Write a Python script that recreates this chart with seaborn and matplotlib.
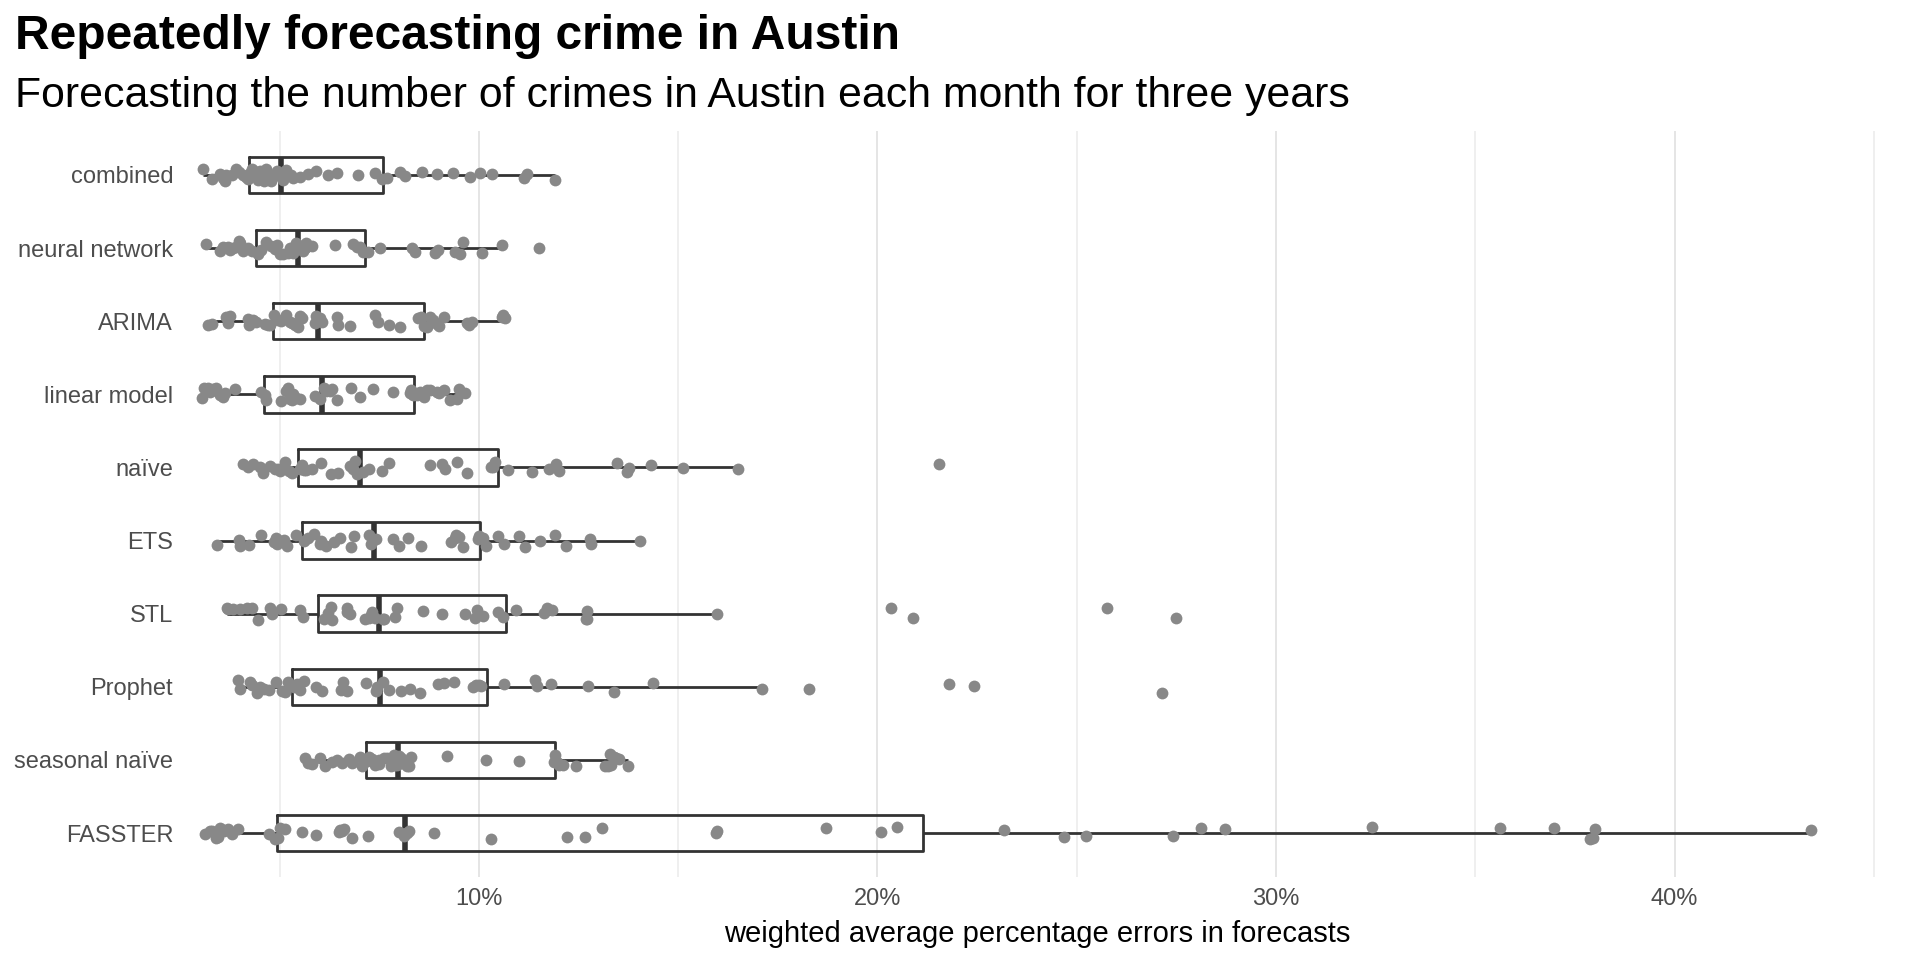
import numpy as np
import pandas as pd
import seaborn as sns
import matplotlib.pyplot as plt
from matplotlib.ticker import MultipleLocator, PercentFormatter

# --- данные: WAPE (%) по моделям, сверху вниз ---
models = ["combined", "neural network", "ARIMA", "linear model", "naïve",
          "ETS", "STL", "Prophet", "seasonal naïve", "FASSTER"]

combined = [3.07, 3.30, 3.49, 3.57, 3.62, 3.66, 3.80, 3.90, 3.99, 4.08, 4.15, 4.20,
            4.25, 4.30, 4.41, 4.45, 4.50, 4.54, 4.60, 4.66, 4.75, 4.79, 4.92, 5.00,
            5.08, 5.17, 5.29, 5.34, 5.50, 5.71, 5.92, 6.20, 6.43, 6.97, 7.40, 7.56,
            7.68, 8.02, 8.15, 8.57, 8.94, 9.36, 9.78, 10.03, 10.33, 11.12, 11.21, 11.92]
neural_network = [3.15, 3.50, 3.57, 3.70, 3.75, 3.83, 3.91, 3.99, 4.00, 4.08, 4.20, 4.30,
                  4.45, 4.54, 4.66, 4.79, 4.87, 4.92, 5.00, 5.08, 5.20, 5.25, 5.34, 5.42,
                  5.50, 5.55, 5.59, 5.63, 5.65, 5.71, 5.80, 6.38, 6.85, 6.93, 7.01, 7.10,
                  7.22, 7.52, 8.31, 8.40, 8.90, 8.98, 9.40, 9.53, 9.61, 10.08, 10.58, 11.50]
arima = [3.20, 3.30, 3.66, 3.70, 3.74, 4.20, 4.24, 4.33, 4.40, 4.62, 4.71, 4.75,
         4.85, 4.96, 5.04, 5.17, 5.25, 5.30, 5.38, 5.46, 5.50, 5.55, 5.88, 5.90,
         6.00, 6.05, 6.43, 6.47, 6.76, 7.39, 7.47, 7.73, 8.02, 8.48, 8.55, 8.61,
         8.70, 8.78, 8.85, 8.94, 9.00, 9.11, 9.70, 9.75, 9.82, 10.58, 10.60, 10.66]
linear_model = [3.05, 3.11, 3.20, 3.24, 3.32, 3.35, 3.41, 3.50, 3.57, 3.62, 3.87, 4.54,
                4.62, 4.66, 5.04, 5.17, 5.20, 5.25, 5.30, 5.34, 5.42, 5.50, 5.88, 6.00,
                6.10, 6.17, 6.26, 6.30, 6.43, 6.80, 7.01, 7.35, 7.85, 8.27, 8.30, 8.35,
                8.45, 8.52, 8.61, 8.70, 8.78, 8.94, 9.00, 9.11, 9.28, 9.45, 9.50, 9.66]
naive = [4.09, 4.21, 4.33, 4.50, 4.57, 4.76, 4.88, 4.95, 5.00, 5.12, 5.24, 5.30,
         5.50, 5.55, 5.61, 5.67, 5.80, 6.04, 6.28, 6.46, 6.77, 6.83, 6.90, 6.95,
         7.10, 7.25, 7.56, 7.74, 8.78, 9.08, 9.14, 9.45, 9.69, 10.30, 10.35, 10.40,
         10.72, 11.33, 11.75, 11.94, 12.00, 13.46, 13.71, 13.77, 14.32, 15.11, 16.51, 21.54]
ets = [3.43, 3.98, 4.00, 4.23, 4.52, 4.86, 4.90, 4.94, 5.00, 5.11, 5.19, 5.40,
       5.60, 5.70, 5.86, 6.00, 6.03, 6.16, 6.37, 6.50, 6.79, 6.87, 7.25, 7.30,
       7.41, 7.83, 8.00, 8.21, 8.55, 9.30, 9.40, 9.43, 9.51, 9.60, 9.97, 10.00,
       10.10, 10.18, 10.47, 10.64, 11.00, 11.15, 11.52, 11.90, 12.19, 12.78, 12.80, 14.04]
stl = [3.67, 3.70, 3.82, 4.01, 4.17, 4.30, 4.45, 4.76, 4.80, 5.03, 5.50, 5.58,
       6.10, 6.21, 6.29, 6.30, 6.68, 6.70, 6.76, 7.15, 7.23, 7.30, 7.31, 7.40,
       7.60, 7.62, 7.90, 7.94, 8.60, 9.07, 9.66, 9.90, 9.95, 10.10, 10.48, 10.60,
       10.92, 11.63, 11.70, 11.83, 12.69, 12.70, 12.72, 15.97, 20.34, 20.89, 25.75, 27.48]
prophet = [3.95, 4.00, 4.26, 4.30, 4.42, 4.50, 4.60, 4.74, 4.90, 5.05, 5.13, 5.20,
           5.35, 5.44, 5.50, 5.60, 5.91, 6.07, 6.54, 6.60, 6.70, 7.17, 7.41, 7.45,
           7.60, 7.75, 8.04, 8.27, 8.51, 8.97, 9.13, 9.37, 9.84, 9.92, 10.00, 10.05,
           10.62, 11.40, 11.45, 11.80, 12.74, 13.40, 14.36, 17.10, 18.28, 21.80, 22.43, 27.14]
seasonal_naive = [5.63, 5.72, 5.80, 6.00, 6.14, 6.31, 6.43, 6.56, 6.73, 6.81, 7.02, 7.06,
                  7.19, 7.25, 7.31, 7.40, 7.48, 7.50, 7.61, 7.69, 7.78, 7.86, 7.90, 7.94,
                  8.00, 8.05, 8.11, 8.15, 8.20, 8.24, 8.30, 9.20, 10.17, 11.01, 11.89, 11.90,
                  11.97, 12.00, 12.10, 12.43, 13.15, 13.23, 13.30, 13.32, 13.40, 13.44, 13.52, 13.74]
fasster = [3.12, 3.25, 3.30, 3.40, 3.44, 3.51, 3.57, 3.60, 3.70, 3.80, 3.96, 4.74, 4.87,
           4.95, 5.00, 5.13, 5.56, 5.91, 6.49, 6.50, 6.56, 6.62, 6.82, 7.21, 7.99, 8.12,
           8.18, 8.20, 8.25, 8.86, 10.30, 12.21, 12.66, 13.08, 15.95, 15.97, 18.70, 20.10, 20.48,
           23.17, 24.68, 25.23, 27.41, 28.13, 28.72, 32.42, 35.61, 36.97, 37.88, 37.95, 38.00, 43.42]

errors = [combined, neural_network, arima, linear_model, naive,
          ets, stl, prophet, seasonal_naive, fasster]

df = pd.DataFrame({
    "model": np.repeat(models, [len(e) for e in errors]),
    "wape": np.concatenate(errors),
})

# --- стиль ---
sns.set_theme(style="white")
plt.rcParams["font.family"] = ["Liberation Sans", "DejaVu Sans"]

fig = plt.figure(figsize=(19.2, 9.6), dpi=100)
ax = fig.add_axes([0.0938, 0.0865, 0.8925, 0.777])

sns.boxplot(data=df, x="wape", y="model", order=models, orient="h",
            width=0.5, fill=False, color="#333333", linewidth=2.0,
            showfliers=False, showcaps=False, whis=1.5,
            medianprops=dict(linewidth=4.0), ax=ax)

np.random.seed(7)
sns.stripplot(data=df, x="wape", y="model", order=models, orient="h",
              jitter=0.09, size=8.5, color="#888888", linewidth=0,
              zorder=3, ax=ax)

# оси
ax.set_xlim(2.5, 45.5)
ax.set_ylim(len(models) - 0.4, -0.6)
ax.xaxis.set_major_locator(MultipleLocator(10))
ax.xaxis.set_minor_locator(MultipleLocator(5))
ax.xaxis.set_major_formatter(PercentFormatter(xmax=100, decimals=0))
ax.grid(axis="x", which="major", color="#E5E5E5", linewidth=1.4)
ax.grid(axis="x", which="minor", color="#EBEBEB", linewidth=1.1)
ax.grid(axis="y", visible=False)
ax.set_axisbelow(True)
sns.despine(ax=ax, left=True, bottom=True)

ax.tick_params(axis="both", which="both", length=0, labelsize=17,
               labelcolor="#4D4D4D")
ax.tick_params(axis="y", pad=5)
ax.tick_params(axis="x", pad=8)
ax.set_ylabel("")
ax.set_xlabel("weighted average percentage errors in forecasts",
              fontsize=21, color="black", labelpad=7)

# заголовки
fig.text(0.0077, 0.949, "Repeatedly forecasting crime in Austin",
         fontsize=34.5, fontweight="bold", va="baseline", color="black")
fig.text(0.0077, 0.889, "Forecasting the number of crimes in Austin each month for three years",
         fontsize=30.8, va="baseline", color="black")

fig.savefig("out.png", dpi=100)
